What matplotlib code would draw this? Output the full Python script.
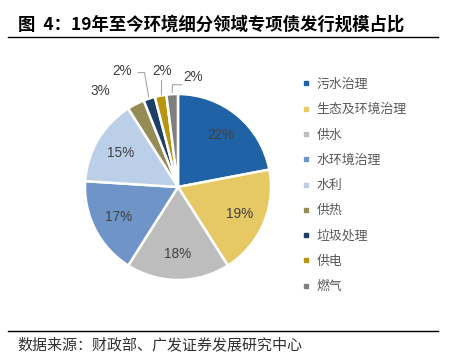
import numpy as np
import matplotlib
matplotlib.use("Agg")
import matplotlib.pyplot as plt
from matplotlib.lines import Line2D

plt.rcParams["font.family"] = ["Noto Sans CJK SC", "DejaVu Sans"]

# Data
categories = ["污水治理", "生态及环境治理", "供水", "水环境治理", "水利",
              "供热", "垃圾处理", "供电", "燃气"]
shares = [22, 19, 18, 17, 15, 3, 2, 2, 2]
colors = ["#1f63a6", "#e6c865", "#bdbdbd", "#6f94c8", "#bccfe8",
          "#958b55", "#1d3f66", "#b7950f", "#7f7f7f"]

W, H = 454, 363
fig = plt.figure(figsize=(W / 100, H / 100), dpi=100)
fig.patch.set_facecolor("white")


def px(x, y):
    return x / W, 1 - y / H


# Pie placed so its centre sits at (178, 187) px with radius 93 px
cx, cy, r = 178, 187, 93
ax = fig.add_axes([(cx - r) / W, (H - cy - r) / H, 2 * r / W, 2 * r / H])
wedges, _ = ax.pie(shares, colors=colors, startangle=90, counterclock=False,
                   wedgeprops=dict(edgecolor="white", linewidth=1.8))
ax.set_xlim(-1, 1)
ax.set_ylim(-1, 1)
ax.axis("off")

pct_font = dict(family=["Liberation Sans", "DejaVu Sans"], fontsize=9.8,
                color="#404040")

# Inner labels for the big slices
for w, v in zip(wedges[:5], shares[:5]):
    mid = np.deg2rad((w.theta1 + w.theta2) / 2)
    ax.text(0.72 * np.cos(mid), 0.72 * np.sin(mid), f"{v}%",
            ha="center", va="center", **pct_font)

# Outer labels for the small slices (label offsets in radius units)
outer_pos = {5: (-0.84, 1.03), 6: (-0.60, 1.25), 7: (-0.17, 1.25), 8: (0.16, 1.18)}
for i, (tx, ty) in outer_pos.items():
    w = wedges[i]
    mid = np.deg2rad((w.theta1 + w.theta2) / 2)
    x0, y0 = np.cos(mid), np.sin(mid)
    ax.text(tx, ty, f"{shares[i]}%", ha="center", va="center", clip_on=False,
            **pct_font)
    if i == 5:
        continue
    if i == 6:
        xs = [tx + 0.17, tx + 0.24, x0 * 1.02]
        ys = [ty - 0.02, ty - 0.02, y0 * 1.02]
    elif i == 7:
        xs = [x0, x0]
        ys = [ty - 0.1, y0 * 1.02]
    else:
        xs = [tx - 0.12, tx - 0.22, x0]
        ys = [ty - 0.08, ty - 0.08, y0 * 1.02]
    ax.plot(xs, ys, color="#a6a6a6", lw=0.8, clip_on=False)

# Legend
handles = [Line2D([], [], marker="s", ls="", markersize=3.5, color=c)
           for c in colors]
leg = fig.legend(handles, categories, loc="upper left",
                 bbox_to_anchor=px(302, 78), frameon=False,
                 fontsize=9.3, handlelength=0.6, handletextpad=0.5,
                 labelspacing=0.95, borderaxespad=0, borderpad=0)
for t in leg.get_texts():
    t.set_color("#595959")

# Title and rules
fig.text(*px(18, 25), "图  4：19年至今环境细分领域专项债发行规模占比",
         fontsize=12.5, fontweight="bold", color="black", va="center", ha="left")
fig.add_artist(Line2D([8 / W, 438 / W], [1 - 37 / H] * 2, color="black", lw=1))
fig.add_artist(Line2D([8 / W, 438 / W], [1 - 331 / H] * 2, color="black", lw=1))
fig.text(*px(17, 345), "数据来源：财政部、广发证券发展研究中心",
         fontsize=10.8, color="#303030", va="center", ha="left")

fig.savefig("out.png", dpi=100, facecolor="white")
